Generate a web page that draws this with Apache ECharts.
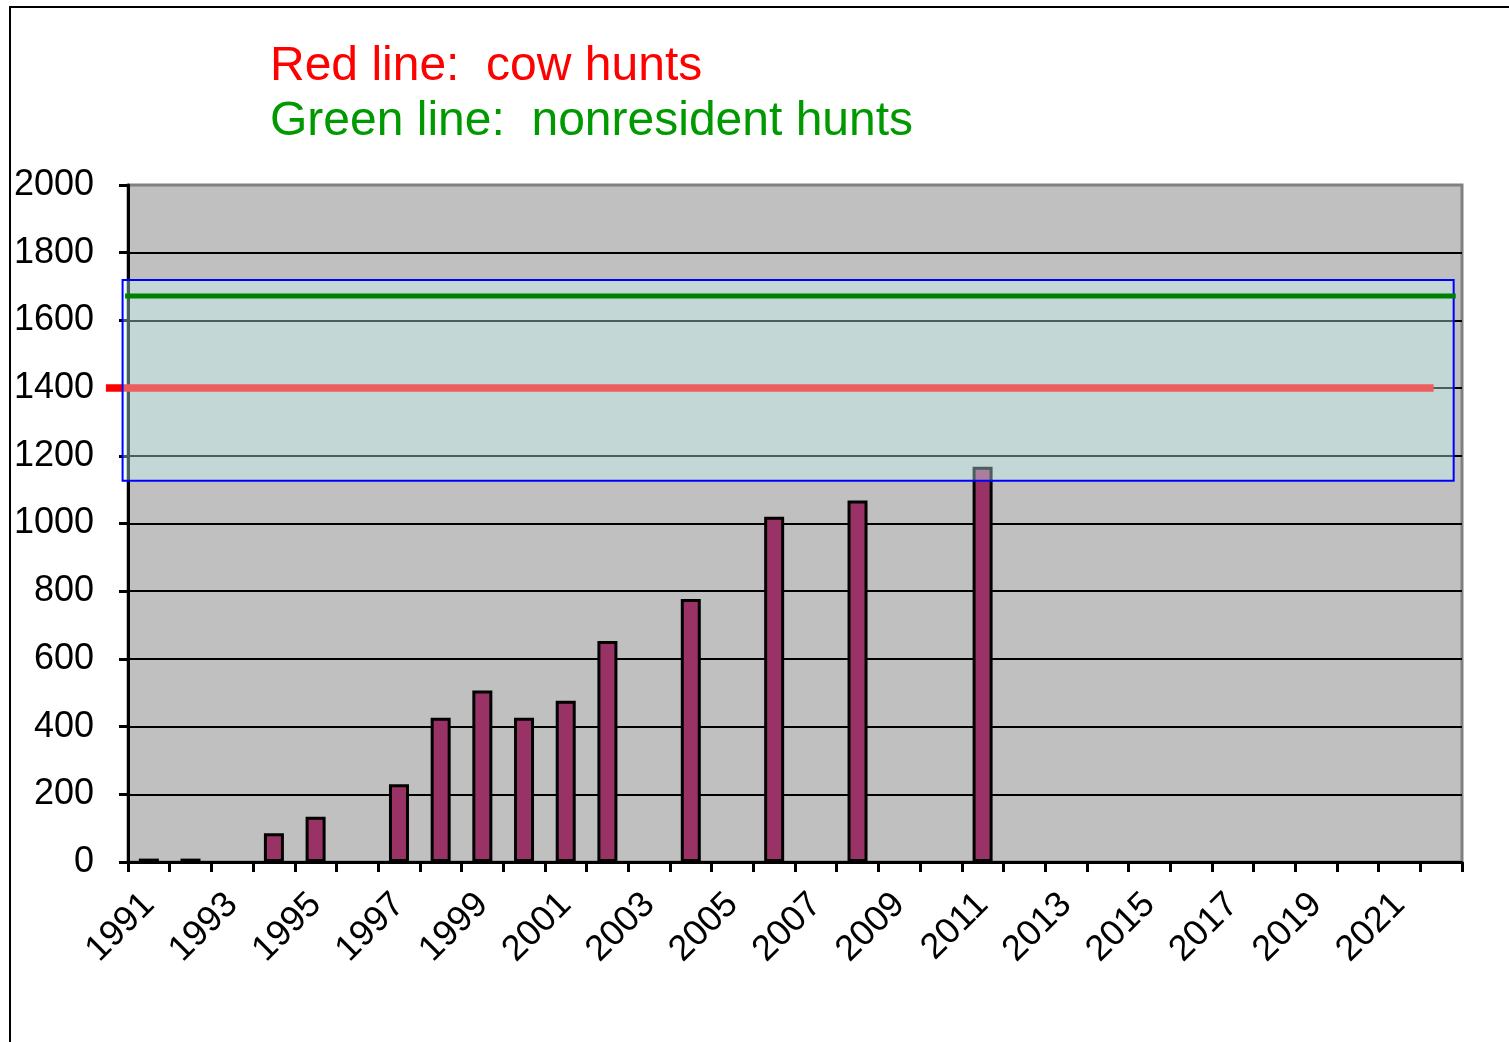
<!DOCTYPE html>
<html>
<head>
<meta charset="utf-8">
<script src="https://cdn.jsdelivr.net/npm/echarts@6/dist/echarts.min.js"></script>
<style>
  html, body { margin: 0; padding: 0; background: #fff; }
  #chart { width: 1509px; height: 1042px; }
</style>
</head>
<body>
<div id="chart"></div>
<script>
  // years on the category axis
  const years = [];
  for (let y = 1991; y <= 2022; y++) years.push(String(y));

  // bar values (null = no bar)
  const hunts = [10, 10, null, 85, 134, null, 230, 426, 507, 426, 476, 653, null, 777, null,
    1020, null, 1068, null, null, 1168, null, null, null, null, null, null, null, null, null, null, null];

  // reference lines: [xStart, xEnd] in category units, and their level
  const cowLineX = [-0.53, 31.32];
  const cowLevel = 1400;
  const nonresLineX = [-0.07, 31.85];
  const nonresLevel = 1672;

  // highlighted band: [xStart, yTop, xEnd, yBottom]
  const band = [-0.13, 1719, 31.8, 1126];

  const yTicks = { min: 0, max: 2000, step: 200 };

  const font = 'Liberation Sans, Arial, sans-serif';

  // plot box in pixels; the overlay grid starts a bit further left so that
  // the lines that stick out past the y axis stay inside its range
  const plotLeft = 128, plotRight = 47, plotTop = 185, plotBottom = 180;
  const overlayMin = -0.6;
  const unit = (1509 - plotLeft - plotRight) / years.length;

  // grey top border instead of a black split line at the maximum
  const splitColors = [];
  for (let v = yTicks.min; v <= yTicks.max; v += yTicks.step) {
    splitColors.push(v === yTicks.max ? '#808080' : '#000');
  }

  const chart = echarts.init(document.getElementById('chart'));
  chart.setOption({
    animation: false,
    backgroundColor: '#fff',
    graphic: [{
      type: 'rect',
      shape: { x: 10, y: 7, width: 1600, height: 1100 },
      style: { fill: 'none', stroke: '#000', lineWidth: 2 },
      silent: true
    }],
    title: [{
      text: 'Red line:  cow hunts',
      left: 270, top: 43, padding: 0,
      textStyle: { color: '#ff0000', fontSize: 48, fontWeight: 'normal', fontFamily: font }
    }, {
      text: 'Green line:  nonresident hunts',
      left: 270, top: 98, padding: 0,
      textStyle: { color: '#009900', fontSize: 48, fontWeight: 'normal', fontFamily: font }
    }],
    grid: [{
      left: plotLeft, right: plotRight, top: plotTop, bottom: plotBottom,
      show: true,
      backgroundColor: '#c0c0c0',
      borderColor: '#808080',
      borderWidth: 3
    }, {
      left: plotLeft + overlayMin * unit, right: plotRight, top: plotTop, bottom: plotBottom,
      show: false
    }],
    xAxis: [{
      type: 'category',
      data: years,
      boundaryGap: true,
      axisLine: { lineStyle: { color: '#000', width: 3 } },
      axisTick: { show: true, interval: 0, alignWithLabel: false, length: 10, lineStyle: { color: '#000', width: 3 } },
      axisLabel: {
        interval: 1, rotate: 45, margin: 37,
        color: '#000', fontSize: 36, fontFamily: font
      },
      splitLine: { show: false }
    }, {
      type: 'value',
      gridIndex: 1,
      min: overlayMin, max: years.length,
      show: false
    }],
    yAxis: [{
      type: 'value',
      min: yTicks.min, max: yTicks.max, interval: yTicks.step,
      axisLine: { show: true, lineStyle: { color: '#000', width: 3 } },
      axisTick: { show: true, length: 9, lineStyle: { color: '#000', width: 3 } },
      axisLabel: {
        margin: 34, color: '#000', fontSize: 36, fontFamily: font,
        formatter: function (v) { return String(v); }
      },
      splitLine: { lineStyle: { color: splitColors, width: 2 } }
    }, {
      type: 'value',
      gridIndex: 1,
      min: yTicks.min, max: yTicks.max,
      show: false
    }],
    series: [{
      type: 'bar',
      data: hunts,
      barWidth: 20,
      z: 2,
      itemStyle: { color: '#993366', borderColor: '#000', borderWidth: 3 }
    }, {
      type: 'line',
      xAxisIndex: 1, yAxisIndex: 1,
      data: [[cowLineX[0], cowLevel], [cowLineX[1], cowLevel]],
      symbol: 'none',
      clip: false,
      z: 3,
      lineStyle: { color: '#ff0000', width: 7.5 }
    }, {
      type: 'custom',
      xAxisIndex: 1, yAxisIndex: 1,
      data: [band],
      clip: false,
      z: 4,
      encode: { x: [0, 2], y: [1, 3] },
      renderItem: function (params, api) {
        const p0 = api.coord([api.value(0), api.value(1)]);
        const p1 = api.coord([api.value(2), api.value(3)]);
        return {
          type: 'rect',
          shape: { x: p0[0], y: p0[1], width: p1[0] - p0[0], height: p1[1] - p0[1] },
          style: { fill: 'rgba(203,255,255,0.37)', stroke: '#0000ff', lineWidth: 2 }
        };
      }
    }, {
      type: 'line',
      xAxisIndex: 1, yAxisIndex: 1,
      data: [[nonresLineX[0], nonresLevel], [nonresLineX[1], nonresLevel]],
      symbol: 'none',
      clip: false,
      z: 5,
      lineStyle: { color: '#008000', width: 5 }
    }]
  });
</script>
</body>
</html>
